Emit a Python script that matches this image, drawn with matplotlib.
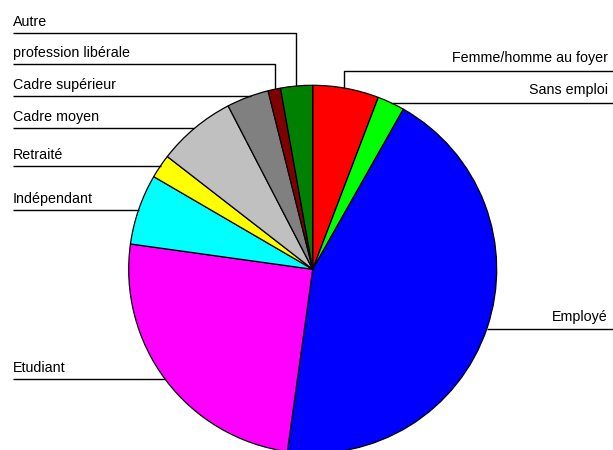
import math

import matplotlib

matplotlib.use("Agg")
import matplotlib.pyplot as plt

W, H = 613, 450

labels = ["Femme/homme au foyer", "Sans emploi", "Employé", "Etudiant", "Indépendant",
          "Retraité", "Cadre moyen", "Cadre supérieur", "profession libérale", "Autre"]
values = [5.8, 2.4, 44.0, 25.0, 6.2, 2.1, 6.9, 3.7, 1.1, 2.8]
colors = ["#FF0000", "#00FF00", "#0000FF", "#FF00FF", "#00FFFF",
          "#FFFF00", "#C0C0C0", "#808080", "#800000", "#008000"]

# leader layout in pixel coords (top-left origin): side, line y, corner x (None = horizontal to edge)
leaders = {
    "Femme/homme au foyer": ("right", 70.7, 344.3),
    "Sans emploi": ("right", 102.7, None),
    "Employé": ("right", 329.3, None),
    "Etudiant": ("left", 379.3, None),
    "Indépendant": ("left", 210.0, None),
    "Retraité": ("left", 165.7, None),
    "Cadre moyen": ("left", 128.3, None),
    "Cadre supérieur": ("left", 96.0, None),
    "profession libérale": ("left", 64.3, 274.5),
    "Autre": ("left", 33.0, 296.0),
}

CX, CY, R = 312.7, 269.3, 184.0

plt.rcParams["font.family"] = ["Liberation Sans", "DejaVu Sans"]

fig = plt.figure(figsize=(W / 100, H / 100), dpi=100)
ax = fig.add_axes([0, 0, 1, 1])

ax.pie(values, colors=colors, startangle=90, counterclock=False,
       center=(CX, H - CY), radius=R,
       wedgeprops=dict(edgecolor="black", linewidth=0.9))
ax.set_xlim(0, W)
ax.set_ylim(0, H)
ax.set_aspect("auto")
ax.axis("off")


def fy(y):
    return H - y


for name in labels:
    side, ly, corner = leaders[name]
    if corner is not None:
        # horizontal then straight down to the pie rim
        dx = corner - CX
        y_end = CY - math.sqrt(R ** 2 - dx ** 2)
        xs = [13, corner, corner] if side == "left" else [W, corner, corner]
        ys = [ly, ly, y_end]
    else:
        dy = ly - CY
        half = math.sqrt(R ** 2 - dy ** 2)
        if side == "left":
            xs = [13, CX - half]
        else:
            xs = [W, CX + half]
        ys = [ly, ly]
    ax.plot(xs, [fy(v) for v in ys], color="black", linewidth=1.0, solid_capstyle="butt")
    if side == "left":
        ax.text(13, fy(ly - 7), name, ha="left", va="baseline", fontsize=10.3)
    else:
        ax.text(608, fy(ly - 8.5), name, ha="right", va="baseline", fontsize=10.3)

fig.savefig("out.png", dpi=100)
